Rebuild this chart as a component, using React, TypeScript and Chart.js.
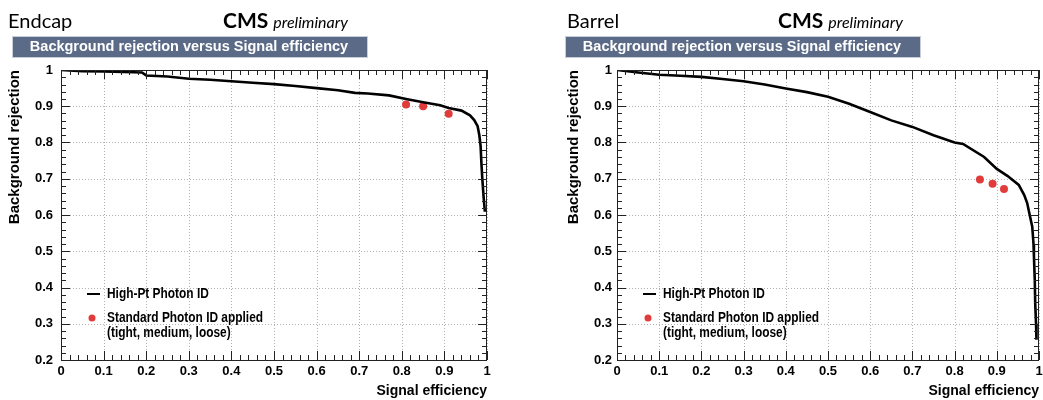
import React, { useEffect, useRef } from "react";
import { Chart, registerables } from "chart.js";

Chart.register(...registerables);

// ---------- data ----------
const xTickValues = [0, 0.1, 0.2, 0.3, 0.4, 0.5, 0.6, 0.7, 0.8, 0.9, 1];
const yTickValues = [0.2, 0.3, 0.4, 0.5, 0.6, 0.7, 0.8, 0.9, 1];

const endcapEff = [0, 0.05, 0.1, 0.17, 0.19, 0.2, 0.25, 0.3, 0.35, 0.4, 0.45, 0.5, 0.55, 0.6, 0.65, 0.69, 0.72, 0.77, 0.81, 0.85, 0.89, 0.91, 0.94, 0.96, 0.97, 0.978, 0.982, 0.985, 0.987, 0.989, 0.992, 0.995];
const endcapRej = [1.0, 0.997, 0.996, 0.994, 0.993, 0.985, 0.982, 0.976, 0.973, 0.969, 0.965, 0.961, 0.956, 0.95, 0.944, 0.937, 0.935, 0.93, 0.92, 0.911, 0.903, 0.895, 0.888, 0.875, 0.862, 0.845, 0.82, 0.79, 0.74, 0.7, 0.65, 0.609];
const endcapStdEff = [0.81, 0.85, 0.91];
const endcapStdRej = [0.905, 0.9, 0.879];

const barrelEff = [0, 0.05, 0.1, 0.15, 0.2, 0.25, 0.3, 0.35, 0.4, 0.45, 0.5, 0.55, 0.6, 0.65, 0.7, 0.75, 0.8, 0.82, 0.87, 0.9, 0.925, 0.952, 0.965, 0.972, 0.978, 0.984, 0.987, 0.988, 0.99, 0.991, 0.993, 0.994];
const barrelRej = [1.0, 0.993, 0.987, 0.984, 0.981, 0.975, 0.969, 0.96, 0.949, 0.939, 0.926, 0.907, 0.884, 0.861, 0.843, 0.82, 0.8, 0.796, 0.76, 0.727, 0.708, 0.683, 0.655, 0.633, 0.6, 0.568, 0.52, 0.486, 0.42, 0.357, 0.3, 0.256];
const barrelStdEff = [0.86, 0.89, 0.917];
const barrelStdRej = [0.698, 0.686, 0.672];

const curveLabel = "High-Pt Photon ID";
const stdLabel1 = "Standard Photon ID applied";
const stdLabel2 = "(tight, medium, loose)";
const titleText = "Background rejection versus Signal efficiency";

const RED = "#e23b3b";

type PanelProps = {
  region: string;
  left: number;
  width: number;
  padLeft: number;
  axisWidth: number;
  padRight: number;
  labelPad: number;
  nameX: number;
  cmsX: number;
  barX: number;
  eff: number[];
  rej: number[];
  stdEff: number[];
  stdRej: number[];
};

const fmt = (v: number) => String(Number(Number(v).toFixed(1)));

function narrowText(ctx: CanvasRenderingContext2D, text: string, x: number, y: number) {
  ctx.save();
  ctx.translate(x, y);
  ctx.scale(0.85, 1);
  ctx.fillText(text, 0, 0);
  ctx.restore();
}

function makeDecor(p: PanelProps) {
  return {
    id: "decor" + p.region,
    beforeDatasetsDraw(chart: any) {
      const { ctx, chartArea: a, scales } = chart;
      const xs = scales.x;
      const ys = scales.y;
      ctx.save();
      ctx.strokeStyle = "#b0b0b0";
      ctx.lineWidth = 1;
      ctx.setLineDash([1, 2]);
      for (const v of xTickValues) {
        const px = Math.round(xs.getPixelForValue(v)) + 0.5;
        ctx.beginPath();
        ctx.moveTo(px, a.top);
        ctx.lineTo(px, a.bottom);
        ctx.stroke();
      }
      for (const v of yTickValues) {
        const py = Math.round(ys.getPixelForValue(v)) + 0.5;
        ctx.beginPath();
        ctx.moveTo(a.left, py);
        ctx.lineTo(a.right, py);
        ctx.stroke();
      }
      ctx.restore();
    },
    afterDraw(chart: any) {
      const { ctx, chartArea: a, scales } = chart;
      const xs = scales.x;
      const ys = scales.y;
      ctx.save();
      ctx.setLineDash([]);
      // frame
      ctx.strokeStyle = "#222";
      ctx.lineWidth = 1;
      ctx.strokeRect(Math.round(a.left) + 0.5, Math.round(a.top) + 0.5, Math.round(a.right - a.left) - 1, Math.round(a.bottom - a.top));
      // ticks
      for (let i = 0; i <= 50; i++) {
        const v = i * 0.02;
        const L = i % 5 === 0 ? 9 : 5;
        const px = Math.round(xs.getPixelForValue(v)) + 0.5;
        ctx.beginPath();
        ctx.moveTo(px, a.bottom);
        ctx.lineTo(px, a.bottom - L);
        ctx.moveTo(px, a.top);
        ctx.lineTo(px, a.top + L);
        ctx.stroke();
      }
      for (let i = 0; i <= 40; i++) {
        const v = 0.2 + i * 0.02;
        const L = i % 5 === 0 ? 9 : 5;
        const py = Math.round(ys.getPixelForValue(v)) + 0.5;
        ctx.beginPath();
        ctx.moveTo(a.left, py);
        ctx.lineTo(a.left + L, py);
        ctx.moveTo(a.right, py);
        ctx.lineTo(a.right - L, py);
        ctx.stroke();
      }
      // legend
      const lx = a.left;
      const ty = a.top;
      ctx.strokeStyle = "#000";
      ctx.lineWidth = 2;
      ctx.beginPath();
      ctx.moveTo(lx + 26, ty + 224);
      ctx.lineTo(lx + 39, ty + 224);
      ctx.stroke();
      ctx.fillStyle = RED;
      ctx.beginPath();
      ctx.arc(lx + 31, ty + 248, 3.5, 0, Math.PI * 2);
      ctx.fill();
      ctx.fillStyle = "#000";
      ctx.font = 'bold 14px "Liberation Sans", Arial, sans-serif';
      ctx.textBaseline = "middle";
      ctx.textAlign = "left";
      narrowText(ctx, curveLabel, lx + 46, ty + 224);
      narrowText(ctx, stdLabel1, lx + 46, ty + 248);
      narrowText(ctx, stdLabel2, lx + 46, ty + 263);
      // header
      ctx.textBaseline = "alphabetic";
      ctx.font = '20px Lato, "Open Sans", sans-serif';
      ctx.fillText(p.region, p.nameX, 28);
      ctx.font = 'bold 21px Lato, "Open Sans", sans-serif';
      ctx.fillText("CMS", p.cmsX, 28);
      const w = ctx.measureText("CMS").width;
      ctx.font = 'italic 16px Lato, "Open Sans", sans-serif';
      ctx.fillText("preliminary", p.cmsX + w + 5, 28);
      // title bar
      ctx.fillStyle = "#5b6a86";
      ctx.fillRect(p.barX, 36, 355, 21);
      ctx.strokeStyle = "#c9cfd8";
      ctx.lineWidth = 1;
      ctx.strokeRect(p.barX + 0.5, 36.5, 355, 21);
      ctx.fillStyle = "#fff";
      ctx.font = 'bold 14.5px "Liberation Sans", Arial, sans-serif';
      ctx.textAlign = "center";
      ctx.fillText(titleText, p.barX + 177, 51);
      ctx.restore();
    },
  };
}

function Panel(p: PanelProps) {
  const ref = useRef<HTMLCanvasElement>(null);
  useEffect(() => {
    const tickFont = { family: '"Liberation Sans", Arial, sans-serif', size: 13, weight: "bold" as const };
    const chart = new Chart(ref.current as HTMLCanvasElement, {
      type: "scatter",
      data: {
        datasets: [
          {
            label: stdLabel1,
            data: p.stdEff.map((e, i) => ({ x: e, y: p.stdRej[i] })),
            showLine: false,
            pointRadius: 4,
            pointBackgroundColor: RED,
            pointBorderWidth: 0,
            backgroundColor: RED,
            borderColor: RED,
            order: 2,
          },
          {
            label: curveLabel,
            data: p.eff.map((e, i) => ({ x: e, y: p.rej[i] })),
            showLine: true,
            borderColor: "#000",
            borderWidth: 2.6,
            pointRadius: 0,
            tension: 0,
            order: 1,
          },
        ],
      },
      options: {
        responsive: false,
        animation: false,
        events: [],
        layout: { padding: { left: p.padLeft, right: p.padRight, top: 70, bottom: 0 } },
        plugins: { legend: { display: false }, tooltip: { enabled: false } },
        scales: {
          x: {
            type: "linear",
            min: 0,
            max: 1,
            afterBuildTicks: (s: any) => {
              s.ticks = xTickValues.map((v) => ({ value: v }));
            },
            afterFit: (s: any) => {
              s.height = 40;
              s.paddingLeft = 0;
              s.paddingRight = 0;
            },
            ticks: { callback: (v: any) => fmt(v), font: tickFont, color: "#000", padding: 4, maxRotation: 0, autoSkip: false },
            grid: { display: false, drawTicks: false },
            border: { display: false },
            title: {
              display: true,
              text: "Signal efficiency",
              align: "end",
              color: "#000",
              font: { family: '"Liberation Sans", Arial, sans-serif', size: 14, weight: "bold" },
              padding: { top: 0, bottom: 0 },
            },
          },
          y: {
            type: "linear",
            min: 0.2,
            max: 1,
            afterBuildTicks: (s: any) => {
              s.ticks = yTickValues.map((v) => ({ value: v }));
            },
            afterFit: (s: any) => {
              s.width = p.axisWidth;
              s.paddingTop = 0;
              s.paddingBottom = 0;
            },
            ticks: { callback: (v: any) => fmt(v), font: tickFont, color: "#000", padding: p.labelPad, autoSkip: false },
            grid: { display: false, drawTicks: false },
            border: { display: false },
            title: {
              display: true,
              text: "Background rejection",
              align: "end",
              color: "#000",
              font: { family: '"Liberation Sans", Arial, sans-serif', size: 15, weight: "bold" },
              padding: { top: 6, bottom: 0 },
            },
          },
        },
      },
      plugins: [makeDecor(p)],
    } as any);
    return () => chart.destroy();
  }, []);
  return (
    <canvas
      ref={ref}
      width={p.width}
      height={400}
      style={{ position: "absolute", left: p.left, top: 0, width: p.width, height: 400, display: "block" }}
    />
  );
}

export default function App() {
  return (
    <div style={{ position: "absolute", left: 0, top: 0, width: 1043, height: 400, background: "#fff", overflow: "hidden" }}>
      <Panel
        region="Endcap"
        left={0}
        width={540}
        padLeft={0}
        axisWidth={61}
        padRight={53}
        labelPad={8}
        nameX={8}
        cmsX={223}
        barX={12}
        eff={endcapEff}
        rej={endcapRej}
        stdEff={endcapStdEff}
        stdRej={endcapStdRej}
      />
      <Panel
        region="Barrel"
        left={540}
        width={503}
        padLeft={19}
        axisWidth={58}
        padRight={1}
        labelPad={5}
        nameX={27}
        cmsX={238}
        barX={25}
        eff={barrelEff}
        rej={barrelRej}
        stdEff={barrelStdEff}
        stdRej={barrelStdRej}
      />
    </div>
  );
}
